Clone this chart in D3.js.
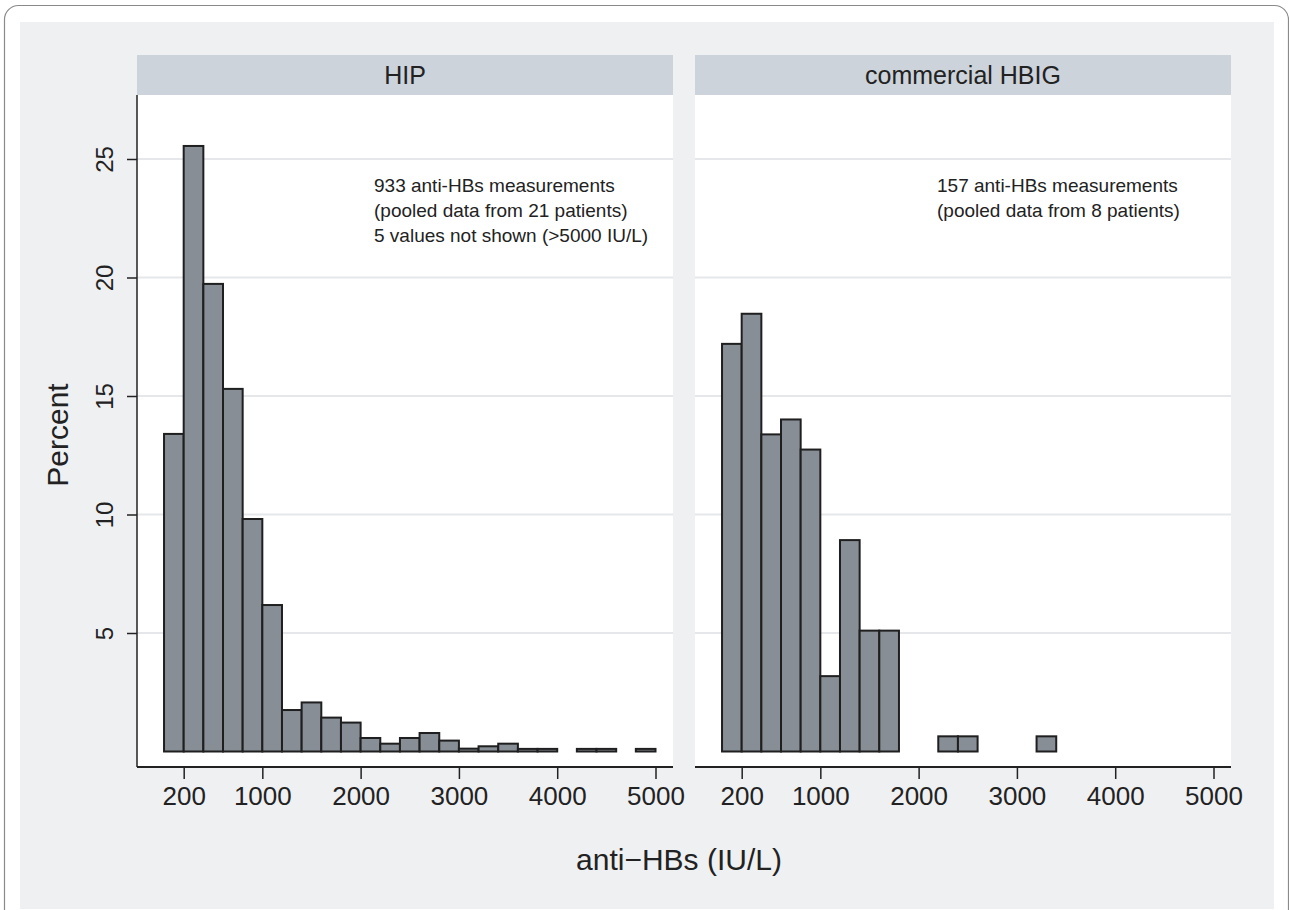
<!DOCTYPE html>
<html>
<head>
<meta charset="utf-8">
<script src="https://cdn.jsdelivr.net/npm/d3@7"></script>
<style>
  html, body { margin: 0; padding: 0; background: #ffffff; }
  svg { display: block; font-family: "Liberation Sans", Arial, Helvetica, sans-serif; }
</style>
</head>
<body>
<svg id="chart" width="1289" height="910"></svg>
<script>
// ---- data ----
const panelNames = ["HIP", "commercial HBIG"];
const binStarts = [0, 200, 400, 600, 800, 1000, 1200, 1400, 1600, 1800, 2000, 2200, 2400,
                   2600, 2800, 3000, 3200, 3400, 3600, 3800, 4000, 4200, 4400, 4600, 4800];
const binWidth = 200;
const hipPercent = [13.40, 25.55, 19.73, 15.30, 9.81, 6.18, 1.75, 2.07, 1.43, 1.22, 0.57, 0.33, 0.57,
                    0.78, 0.46, 0.12, 0.22, 0.33, 0.11, 0.11, 0, 0.11, 0.11, 0, 0.11];
const hbigPercent = [17.20, 18.47, 13.38, 14.01, 12.74, 3.18, 8.92, 5.10, 5.10, 0, 0, 0.64, 0.64,
                     0, 0, 0, 0.64, 0, 0, 0, 0, 0, 0, 0, 0];
const xTickValues = [200, 1000, 2000, 3000, 4000, 5000];
const yTickValues = [5, 10, 15, 20, 25];
const hipNote = ["933 anti-HBs measurements", "(pooled data from 21 patients)", "5 values not shown (>5000 IU/L)"];
const hbigNote = ["157 anti-HBs measurements", "(pooled data from 8 patients)"];
const xTitle = "anti\u2212HBs (IU/L)";
const yTitle = "Percent";

// ---- layout ----
const svg = d3.select("#chart");
const W = 1289, H = 910;
const panelTop = 95, panelBottom = 767, headerTop = 55;
const panelWidth = 536;
const panelLefts = [137, 695];
const series = [hipPercent, hbigPercent];
const notes = [hipNote, hbigNote];
const noteX = [374, 937];

const colors = {
  outer: "#eff0f2",
  header: "#cdd3da",
  grid: "#e5e7eb",
  bar: "#878e95",
  barStroke: "#1f1f1f",
  axis: "#222222",
  text: "#222222"
};

// outer frame
svg.append("rect").attr("x", 0).attr("y", 0).attr("width", W).attr("height", H).attr("fill", "#ffffff");
svg.append("rect").attr("x", 4.5).attr("y", 5.5).attr("width", 1284).attr("height", 980)
  .attr("rx", 14).attr("fill", "#ffffff").attr("stroke", "#8a8a8a").attr("stroke-width", 1.2);
svg.append("rect").attr("x", 20).attr("y", 22).attr("width", 1254).attr("height", 887)
  .attr("fill", colors.outer);

const x = d3.scaleLinear().domain([-275, 5178]).range([0, panelWidth]);
const y = d3.scaleLinear().domain([0, 25]).range([751.5, 159]);

panelNames.forEach((name, i) => {
  const g = svg.append("g").attr("transform", `translate(${panelLefts[i]},0)`);

  // header strip
  g.append("rect").attr("x", 0).attr("y", headerTop).attr("width", panelWidth)
    .attr("height", panelTop - headerTop).attr("fill", colors.header);
  g.append("text").attr("x", panelWidth / 2).attr("y", 83.5)
    .attr("text-anchor", "middle").attr("font-size", 25).attr("fill", colors.text).text(name);

  // plot area
  g.append("rect").attr("x", 0).attr("y", panelTop).attr("width", panelWidth)
    .attr("height", panelBottom - panelTop).attr("fill", "#ffffff");

  // gridlines
  g.selectAll("line.grid").data(yTickValues).join("line")
    .attr("class", "grid")
    .attr("x1", 0).attr("x2", panelWidth)
    .attr("y1", d => y(d)).attr("y2", d => y(d))
    .attr("stroke", colors.grid).attr("stroke-width", 2);

  // bars
  const data = binStarts.map((b, k) => ({ b, v: series[i][k] })).filter(d => d.v > 0);
  g.selectAll("rect.bar").data(data).join("rect")
    .attr("class", "bar")
    .attr("x", d => x(d.b))
    .attr("width", d => x(d.b + binWidth) - x(d.b))
    .attr("y", d => y(d.v))
    .attr("height", d => y(0) - y(d.v))
    .attr("fill", colors.bar)
    .attr("stroke", colors.barStroke)
    .attr("stroke-width", 2);

  // annotation
  const t = g.append("text").attr("font-size", 19).attr("fill", colors.text);
  notes[i].forEach((line, k) => {
    t.append("tspan").attr("x", noteX[i] - panelLefts[i]).attr("y", 192 + k * 25).text(line);
  });

  // x axis
  const xa = g.append("g").attr("transform", `translate(0,${panelBottom})`)
    .call(d3.axisBottom(x).tickValues(xTickValues).tickFormat(d3.format("d")).tickSize(12).tickSizeOuter(0));
  xa.select(".domain").attr("stroke", colors.axis).attr("stroke-width", 2)
    .attr("d", `M0,0H${panelWidth}`);
  xa.selectAll(".tick line").attr("stroke", colors.axis).attr("stroke-width", 1.5);
  xa.selectAll(".tick text").attr("font-size", 26).attr("fill", colors.text)
    .attr("font-family", "Liberation Sans, Arial, sans-serif")
    .attr("y", 38).attr("dy", 0);

  // y axis (left panel only)
  if (i === 0) {
    const ya = g.append("g")
      .call(d3.axisLeft(y).tickValues(yTickValues).tickSize(10).tickSizeOuter(0));
    ya.select(".domain").attr("stroke", colors.axis).attr("stroke-width", 1.5)
      .attr("d", `M0,${panelTop}V${panelBottom}`);
    ya.selectAll(".tick line").attr("stroke", colors.axis).attr("stroke-width", 1.5);
    ya.selectAll(".tick text").attr("font-size", 24).attr("fill", colors.text)
      .attr("font-family", "Liberation Sans, Arial, sans-serif")
      .attr("x", null).attr("dy", null)
      .attr("text-anchor", "middle")
      .attr("transform", "translate(-24,0) rotate(-90)");
  }
});

// axis titles
svg.append("text").attr("x", 679).attr("y", 870).attr("text-anchor", "middle")
  .attr("font-size", 30).attr("fill", colors.text).text(xTitle);
svg.append("text").attr("transform", "translate(68,435) rotate(-90)").attr("text-anchor", "middle")
  .attr("font-size", 30).attr("fill", colors.text).text(yTitle);
</script>
</body>
</html>
